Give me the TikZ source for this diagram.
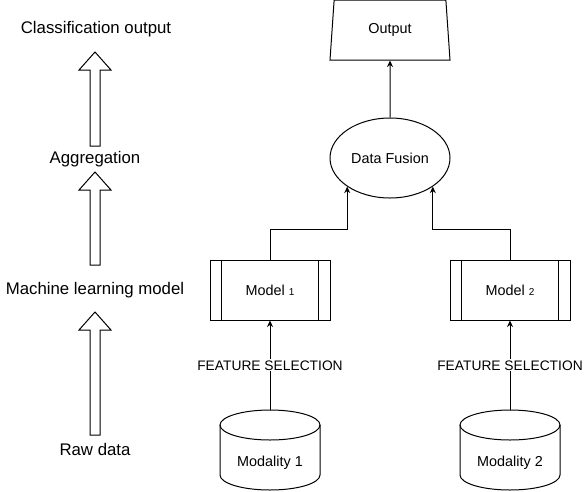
\documentclass[tikz,border=0pt]{standalone}
\usepackage{fontspec}
\setmainfont{Liberation Sans}
\usetikzlibrary{arrows.meta,shapes.geometric}
\tikzset{
  box/.style={draw, line width=1pt, minimum width=120pt, minimum height=60pt, inner sep=0pt, font=\fontsize{14.4}{17}\selectfont},
  conn/.style={line width=1pt, -{Stealth[length=6.5pt,width=6pt]}},
  tag/.style={font=\fontsize{13.8}{17}\selectfont, fill=white, inner sep=1pt},
  level/.style={font=\fontsize{16.8}{20}\selectfont, inner sep=0pt},
  fat/.style={draw, line width=1pt, fill=white}
}

\begin{document}
\begin{tikzpicture}[x=1pt,y=-1pt]
\useasboundingbox (0,0) rectangle (586,491);
\node[level] (cls) at (96,29) {Classification output};
\node[level] (agg) at (95,159) {Aggregation};
\node[level] (mlm) at (95,290) {Machine learning model};
\node[level] (raw) at (95,449) {Raw data};
\foreach \lo/\hi in {146/52, 265/172, 435/312}
  \draw[fat] (90,\lo) -- (90,\hi+18) -- (79,\hi+18) -- (95,\hi) -- (111,\hi+18) -- (100,\hi+18) -- (100,\lo) -- cycle;

\node[box, trapezium, trapezium left angle=72.4, trapezium right angle=72.4, trapezium stretches body] (out) at (390,30) {Output};
\node[box, ellipse, minimum height=80pt] (fusion) at (390,158) {Data Fusion};
\draw[conn] (fusion.north) -- (out.south);

\foreach \x/\n/\side in {270/1/south west, 510/2/south east} {
  \node[box] (model\n) at (\x,290) {Model {\fontsize{10}{12}\selectfont\n}};
  \draw[line width=1pt] ([xshift=12pt]model\n.north west) -- ([xshift=12pt]model\n.south west)
    ([xshift=-12pt]model\n.north east) -- ([xshift=-12pt]model\n.south east);
  \draw[conn] (model\n.north) -- ++(0,-30) -| (fusion.\side);
  \draw[line width=1pt] (\x-50,425) -- (\x-50,475) arc[start angle=180, end angle=0, x radius=50, y radius=15] -- (\x+50,425);
  \draw[line width=1pt] (\x,425) ellipse [x radius=50, y radius=15];
  \coordinate (disk\n) at (\x,410);
  \node[font=\fontsize{14.4}{17}\selectfont] (mod\n) at (\x,463) {Modality \n};
  \draw[conn] (disk\n) -- node[tag] {FEATURE SELECTION} (model\n.south);
}
\end{tikzpicture}
\end{document}
